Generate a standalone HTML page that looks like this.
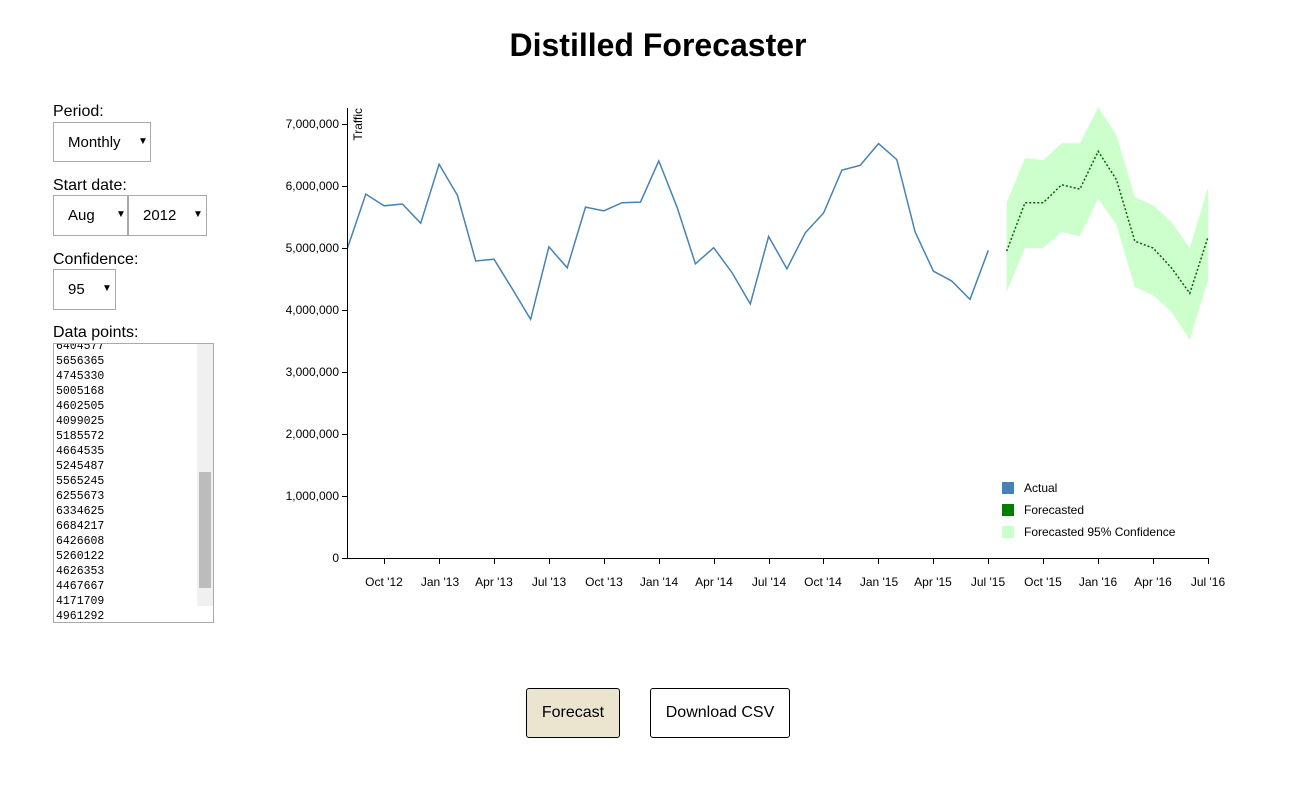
<!DOCTYPE html>
<html><head><meta charset="utf-8"><style>
body{margin:0;width:1298px;height:785px;background:#fff;font-family:"Liberation Sans",sans-serif;position:relative;overflow:hidden}
.a{position:absolute}
.lbl{font-size:16px;color:#000}
.sel{position:absolute;border:1px solid #a9a9a9;background:#fff;font-size:15px;box-sizing:border-box}
.sel span{position:absolute;top:11px}
.sel i{position:absolute;font-style:normal;font-size:10px;top:13px}
.ta{position:absolute;left:53px;top:343px;width:161px;height:280px;border:1px solid #a9a9a9;box-sizing:border-box;overflow:hidden;font-family:"Liberation Mono",monospace;font-size:11.5px;line-height:15px}
.btn{position:absolute;border:1px solid #000;border-radius:3px;font-size:16px;text-align:center;line-height:48px;box-sizing:border-box}
svg text{font-family:"Liberation Sans",sans-serif;font-size:12px}
</style></head><body>
<div class="a" style="left:0;width:1316px;top:27px;text-align:center;font-size:32px;font-weight:bold">Distilled Forecaster</div>
<div class="a lbl" style="left:53px;top:103px">Period:</div>
<div class="sel" style="left:53px;top:122px;width:98px;height:40px"><span style="left:14px">Monthly</span><i style="left:84px">▼</i></div>
<div class="a lbl" style="left:53px;top:177px">Start date:</div>
<div class="sel" style="left:53px;top:195px;width:75px;height:41px"><span style="left:14px">Aug</span><i style="left:62px">▼</i></div>
<div class="sel" style="left:128px;top:195px;width:79px;height:41px"><span style="left:14px">2012</span><i style="left:64px">▼</i></div>
<div class="a lbl" style="left:53px;top:251px">Confidence:</div>
<div class="sel" style="left:53px;top:269px;width:63px;height:41px"><span style="left:14px">95</span><i style="left:48px">▼</i></div>
<div class="a lbl" style="left:53px;top:324px">Data points:</div>
<div class="ta"><div style="position:absolute;left:2px;top:-5px">6404577<br>5656365<br>4745330<br>5005168<br>4602505<br>4099025<br>5185572<br>4664535<br>5245487<br>5565245<br>6255673<br>6334625<br>6684217<br>6426608<br>5260122<br>4626353<br>4467667<br>4171709<br>4961292</div>
<div style="position:absolute;right:0;top:0;width:16px;height:278px;background:#f0f0f0"></div>
<div style="position:absolute;right:2px;top:128px;width:12px;height:116px;background:#bcbcbc"></div>
<div style="position:absolute;right:0;bottom:0;width:16px;height:16px;background:#fff"></div></div>
<div class="btn" style="left:526px;top:688px;width:94px;height:50px;background:#ebe5d0">Forecast</div>
<div class="btn" style="left:650px;top:688px;width:140px;height:50px;background:#fff">Download CSV</div>
<svg class="a" style="left:0;top:0" width="1298" height="785">
<path id="band" fill="#ccffcc" stroke="none"/>
<path id="act" fill="none" stroke="#4682b4" stroke-width="1.5"/>
<path id="fc" fill="none" stroke="#006400" stroke-width="1.5" stroke-dasharray="2,2"/>
<g stroke="#000" fill="none" shape-rendering="crispEdges">
<path d="M347.5,108V558.5H1208.5"/>
<path d="M342,558.5h6M342,496.5h6M342,434.5h6M342,372.5h6M342,310.5h6M342,248.5h6M342,186.5h6M342,124.5h6"/>
<path d="M384.5,558v6M439.5,558v6M494.5,558v6M549.5,558v6M604.5,558v6M659.5,558v6M714.5,558v6M769.5,558v6M823.5,558v6M878.5,558v6M933.5,558v6M988.5,558v6M1043.5,558v6M1098.5,558v6M1153.5,558v6M1208.5,558v6"/>
</g>
<g text-anchor="end">
<text x="339" y="562">0</text><text x="339" y="500">1,000,000</text><text x="339" y="438">2,000,000</text><text x="339" y="376">3,000,000</text><text x="339" y="314">4,000,000</text><text x="339" y="252">5,000,000</text><text x="339" y="190">6,000,000</text><text x="339" y="128">7,000,000</text>
</g>
<text transform="translate(362,108) rotate(-90)" text-anchor="end">Traffic</text>
<g text-anchor="middle">
<text x="384" y="586">Oct '12</text><text x="440" y="586">Jan '13</text><text x="494" y="586">Apr '13</text><text x="549" y="586">Jul '13</text><text x="604" y="586">Oct '13</text><text x="659" y="586">Jan '14</text><text x="714" y="586">Apr '14</text><text x="769" y="586">Jul '14</text><text x="823" y="586">Oct '14</text><text x="879" y="586">Jan '15</text><text x="933" y="586">Apr '15</text><text x="988" y="586">Jul '15</text><text x="1043" y="586">Oct '15</text><text x="1098" y="586">Jan '16</text><text x="1153" y="586">Apr '16</text><text x="1208" y="586">Jul '16</text>
</g>
<rect x="1002" y="482" width="12" height="12" fill="#4682b4"/><text x="1024" y="492">Actual</text>
<rect x="1002" y="504" width="12" height="12" fill="#008000"/><text x="1024" y="514">Forecasted</text>
<rect x="1002" y="526" width="12" height="12" fill="#ccffcc"/><text x="1024" y="536">Forecasted 95% Confidence</text>
</svg>
<script>
var act=[5.0,5.87,5.68,5.71,5.40,6.35,5.85,4.79,4.82,4.34,3.85,5.02,4.68,5.66,5.60,5.73,5.74,6.404577,5.656365,4.745330,5.005168,4.602505,4.099025,5.185572,4.664535,5.245487,5.565245,6.255673,6.334625,6.684217,6.426608,5.260122,4.626353,4.467667,4.171709,4.961292];
var fc=[4.95,5.73,5.73,6.02,5.95,6.56,6.1,5.11,5.0,4.68,4.27,5.18];
var up=[5.73,6.45,6.42,6.69,6.69,7.27,6.82,5.82,5.69,5.42,5.0,5.98];
var lo=[4.29,5.0,5.0,5.26,5.19,5.8,5.37,4.37,4.24,3.97,3.52,4.48];
function X(i){return 347.5+i*18.31}function Y(v){return 558-v*62}
function p(a,o){return a.map(function(v,i){return (i?'L':'M')+X(i+o).toFixed(1)+','+Y(v).toFixed(1)}).join('')}
document.getElementById('act').setAttribute('d',p(act,0));
document.getElementById('fc').setAttribute('d',p(fc,36));
var b=up.map(function(v,i){return (i?'L':'M')+X(i+36)+','+Y(v)}).join('');
for(var i=lo.length-1;i>=0;i--)b+='L'+X(i+36)+','+Y(lo[i]);
document.getElementById('band').setAttribute('d',b+'Z');
</script>
</body></html>
